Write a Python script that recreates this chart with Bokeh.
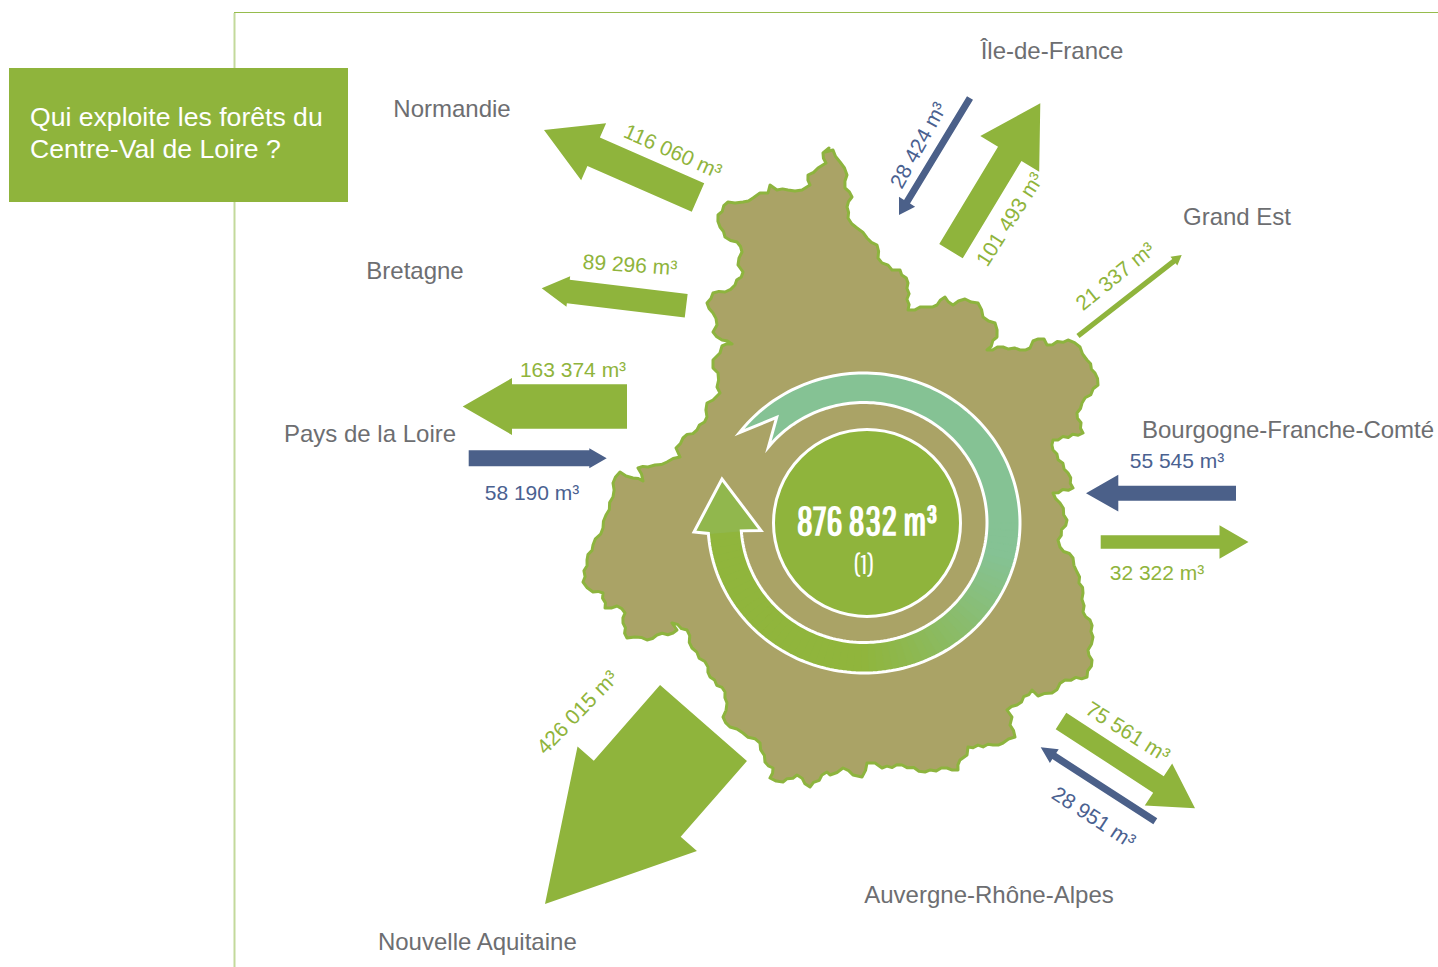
import math
from bokeh.plotting import figure
from bokeh.models import Range1d
from bokeh.core.properties import value
from bokeh.embed import file_html
from bokeh.resources import INLINE

# ---------- chart content ----------
regions = ["Île-de-France", "Normandie", "Grand Est", "Bretagne", "Pays de la Loire",
           "Bourgogne-Franche-Comté", "Auvergne-Rhône-Alpes", "Nouvelle Aquitaine"]
title_lines = ["Qui exploite les forêts du", "Centre-Val de Loire ?"]
total_label = "876 832 m³"
total_note = "(1)"

out_labels = ["116 060 m³", "89 296 m³", "163 374 m³", "101 493 m³", "21 337 m³",
              "32 322 m³", "75 561 m³", "426 015 m³"]
in_labels = ["58 190 m³", "28 424 m³", "55 545 m³", "28 951 m³"]

# ---------- layout (pixel coordinates of the picture) ----------
GREEN, BLUE, GREY = "#8FB43C", "#4B6089", "#6D6E71"
TEXT_BLUE = "#4A6190"
LAND = "#AAA366"

region_x = [1052, 452, 1237, 415, 370, 1288, 989, 478]
region_y = [50.5, 108.5, 216.5, 270.5, 433.5, 429.5, 894.5, 941.5]

out_x = [673, 630, 573, 1009.5, 1115, 1157, 1128, 577]
out_y = [151, 264.5, 369.5, 219, 276, 572.5, 731.5, 712]
out_ang = [-24, -4, 0, 57.5, 39, 0, -32, 46]
in_x = [532, 918, 1177, 1094]
in_y = [492.5, 145, 460.5, 817]
in_ang = [0, 61, 0, -33]

# tail x, tail y, tip x, tip y, stem width, head width, head length
out_arrows = [
    (698, 197.5, 544, 130, 31, 62.2, 54.2),
    (686.2, 305.8, 541.7, 288.3, 23.8, 30.8, 26.8),
    (627, 406.5, 462.7, 406.5, 44.7, 57, 49.3),
    (951, 251.2, 1040.3, 103.3, 27.4, 68.8, 59.1),
    (1078, 336, 1181.7, 255, 5.2, 11.2, 9.9),
    (1100.7, 542, 1248.5, 542, 13.7, 33.7, 29),
    (1061, 721, 1195, 808.3, 19.4, 50.2, 43.6),
    (703.5, 723, 545, 904, 115.5, 158.7, 140),
]
in_arrows = [
    (468.7, 458.3, 606.7, 458.3, 16, 20, 17.4),
    (970, 98, 899, 215, 7, 18.9, 15.5),
    (1236, 493.2, 1086, 493.2, 15, 36.7, 32.3),
    (1155.3, 821.3, 1040.7, 747.3, 7.2, 16.3, 16.2),
]

outline_x = [829, 823, 826, 818, 808, 810, 802, 788, 777, 770, 768, 760, 753, 743, 735, 728, 718, 720, 725, 737,
             742, 738, 743, 735, 725, 713, 707, 713, 717, 713, 722, 732, 722, 720, 713, 713, 718, 717, 720, 713,
             707, 707, 697, 683, 676, 680, 667, 655, 648, 638, 643, 633, 620, 613, 613, 606, 603, 593, 587, 583,
             593, 603, 605, 617, 625, 623, 627, 635, 647, 657, 673, 677, 672, 687, 692, 708, 710, 725, 727, 723,
             730, 743, 760, 765, 773, 770, 783, 797, 810, 827, 830, 843, 853, 862, 867, 875, 882, 902, 925, 947,
             958, 960, 967, 968, 993, 1003, 1015, 1010, 1012, 1007, 1017, 1032, 1038, 1052, 1065, 1087, 1092, 1088,
             1093, 1090, 1083, 1083, 1077, 1073, 1060, 1058, 1067, 1060, 1053, 1073, 1068, 1053, 1053, 1083, 1077,
             1082, 1098, 1095, 1087, 1080, 1068, 1047, 1044, 1033, 1030, 1020, 1003, 987, 997, 995, 983, 978, 965,
             953, 945, 937, 927, 908, 908, 900, 892, 878, 877, 867, 857, 848, 847, 852, 845, 847, 840, 833, 825]
outline_y = [148, 153, 163, 168, 175, 185, 190, 190, 190, 185, 193, 193, 198, 202, 203, 202, 215, 227, 237, 242,
             252, 265, 272, 285, 292, 293, 303, 313, 325, 332, 340, 344, 346, 353, 360, 368, 373, 387, 393, 400,
             403, 417, 430, 438, 448, 457, 462, 465, 467, 468, 481, 478, 472, 483, 497, 515, 528, 545, 560, 582,
             592, 593, 608, 606, 613, 623, 638, 637, 640, 635, 633, 630, 623, 630, 648, 667, 677, 692, 703, 717,
             727, 733, 743, 762, 768, 778, 782, 775, 787, 772, 775, 768, 775, 777, 763, 763, 768, 765, 772, 768,
             770, 760, 755, 747, 745, 743, 737, 725, 717, 710, 705, 690, 696, 693, 680, 677, 660, 650,
             637, 620, 612, 593, 572, 558, 547, 540, 520, 503, 493, 488, 473, 450, 440, 433, 413,
             403, 385, 373, 360, 347, 340, 345, 339, 341, 348, 350, 347, 350, 337, 323, 317, 303, 299,
             305, 297, 305, 307, 310, 283, 270, 270, 258, 245, 238, 228, 218, 207, 197, 188, 175, 162, 150, 152]

# ---------- figure ----------
p = figure(width=1438, height=967, x_range=Range1d(0.5, 1438.5), y_range=Range1d(967.5, 0.5),
           output_backend="svg", toolbar_location=None, min_border=0)
p.axis.visible = False
p.grid.visible = False
p.outline_line_color = None


def arrow(tx, ty, hx, hy, w, hw, hl):
    dx, dy = hx - tx, hy - ty
    d = math.hypot(dx, dy)
    ux, uy = dx / d, dy / d
    nx, ny = -uy, ux
    bx, by = hx - ux * hl, hy - uy * hl
    xs = [tx + nx * w / 2, bx + nx * w / 2, bx + nx * hw / 2, hx, bx - nx * hw / 2, bx - nx * w / 2, tx - nx * w / 2]
    ys = [ty + ny * w / 2, by + ny * w / 2, by + ny * hw / 2, hy, by - ny * hw / 2, by - ny * w / 2, ty - ny * w / 2]
    return xs, ys


def crinkle(xs, ys, amp=1.1):
    # small alternating kink on long border stretches, for the rough coast look
    rx, ry, sign = [], [], 1
    n = len(xs)
    for i in range(n):
        x0, y0, x1, y1 = xs[i], ys[i], xs[(i + 1) % n], ys[(i + 1) % n]
        rx.append(x0); ry.append(y0)
        d = math.hypot(x1 - x0, y1 - y0)
        if d > 7:
            k = int(d // 5)
            for j in range(1, k):
                t = j / k
                rx.append(x0 + (x1 - x0) * t - (y1 - y0) / d * amp * sign)
                ry.append(y0 + (y1 - y0) * t + (x1 - x0) / d * amp * sign)
                sign = -sign
    return rx, ry


# frame
p.line([234.5, 234.5], [13, 968], line_color="#C3D99B", line_width=2)
p.line([234, 1439], [12.5, 12.5], line_color="#96BC4D", line_width=1)

# title box
p.quad(left=[9], right=[348], top=[68], bottom=[202], fill_color=GREEN, line_color=None)
p.text(x=[30, 30], y=[116.5, 148.5], text=title_lines, text_color="white", text_font=value("Liberation Sans"),
       text_font_size="26.6px", text_align="left", text_baseline="middle")

# land
cx_, cy_ = crinkle(outline_x, outline_y)
p.patch(cx_, cy_, fill_color=LAND, line_color="#8DB43E", line_width=3, line_join="round")

# arrows
for a in out_arrows:
    xs, ys = arrow(*a)
    p.patch(xs, ys, fill_color=GREEN, line_color=None)
for a in in_arrows:
    xs, ys = arrow(*a)
    p.patch(xs, ys, fill_color=BLUE, line_color=None)

# central cycle arrow
CX, CY = 864, 523
ICY = 522.5
ORX, ORY = 156, 150
IRX, IRY = 123, 120
A0, A1 = 176.0, -143.0
B1 = -141.0
N = 200


def ell(rx, ry, cy, deg):
    r = math.radians(deg)
    return CX + rx * math.cos(r), cy + ry * math.sin(r)


outer = [ell(ORX, ORY, CY, A0 + (A1 - A0) * i / N) for i in range(N + 1)]
inner = [ell(IRX, IRY, ICY, A0 + (B1 - A0) * i / N) for i in range(N + 1)]
notch = (776.7, 417.3)
head_right = (761, 530.5)
head_tip = (722, 479)
head_left = (694, 532)
ring = outer + [notch] + inner[::-1] + [head_right, head_tip, head_left]
p.patch([q[0] for q in ring], [q[1] for q in ring], fill_color="#85C294", line_color=None)


def mix(t):
    c0, c1 = (0x90, 0xB5, 0x3C), (0x85, 0xC2, 0x94)
    t = max(0.0, min(1.0, t))
    return "#%02x%02x%02x" % tuple(round(a + (b - a) * t) for a, b in zip(c0, c1))


STEPS = 60
END = 0.0
for i in range(STEPS):
    a = A0 + (END - A0) * i / STEPS
    b = A0 + (END - A0) * (i + 1) / STEPS
    q = [ell(ORX, ORY, CY, a), ell(ORX, ORY, CY, b), ell(IRX, IRY, ICY, b), ell(IRX, IRY, ICY, a)]
    mx = sum(v[0] for v in q) / 4 - CX
    my = sum(v[1] for v in q) / 4 - CY
    col = mix((0.7 * mx - 0.7 * my + 96) / 170)
    p.patch([v[0] for v in q], [v[1] for v in q], fill_color=col, line_color=col, line_width=1)

p.patch([ell(ORX, ORY, CY, A0)[0], head_left[0], head_tip[0], head_right[0], ell(IRX, IRY, ICY, A0)[0]],
        [ell(ORX, ORY, CY, A0)[1], head_left[1], head_tip[1], head_right[1], ell(IRX, IRY, ICY, A0)[1]],
        fill_color="#91B74D", line_color="#91B74D", line_width=1)
p.patch([q[0] for q in ring], [q[1] for q in ring], fill_color=None, line_color="white", line_width=3,
        line_join="miter")

# centre disc
p.ellipse(x=[867], y=[523], width=[187], height=[187], fill_color=GREEN, line_color="white", line_width=3)
p.text(x=[867], y=[519.5], text=[total_label], text_color="white", text_font=value("Pathway Gothic One"),
       text_font_style="bold", text_font_size="40px", text_align="center", text_baseline="middle")
p.text(x=[864], y=[563.5], text=[total_note], text_color="white", text_font=value("Pathway Gothic One"),
       text_font_size="27px", text_align="center", text_baseline="middle")

# texts
p.text(x=region_x, y=region_y, text=regions, text_color=GREY, text_font=value("Liberation Sans"),
       text_font_size="24px", text_align="center", text_baseline="middle")
p.text(x=out_x, y=out_y, text=out_labels, angle=[math.radians(a) for a in out_ang], text_color=GREEN,
       text_font=value("Liberation Sans"), text_font_size="21px", text_align="center", text_baseline="middle")
p.text(x=in_x, y=in_y, text=in_labels, angle=[math.radians(a) for a in in_ang], text_color=TEXT_BLUE,
       text_font=value("Liberation Sans"), text_font_size="21px", text_align="center", text_baseline="middle")

open("out.html", "w").write(file_html(p, INLINE))
